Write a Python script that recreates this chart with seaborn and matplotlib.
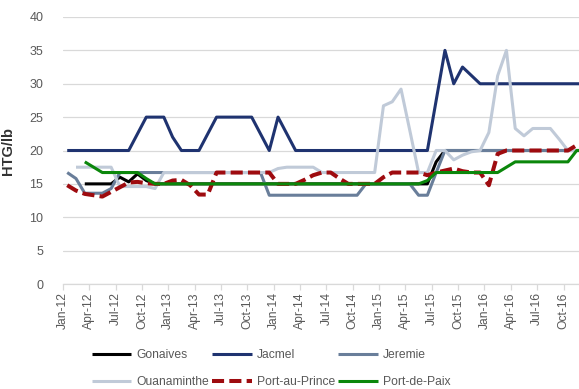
import numpy as np
import matplotlib
matplotlib.use("Agg")
import matplotlib.pyplot as plt
import seaborn as sns

nan = np.nan

# Monthly prices, Jan-2012 .. Dec-2016 (60 months)
tick_labels = ["Jan-12", "Apr-12", "Jul-12", "Oct-12",
               "Jan-13", "Apr-13", "Jul-13", "Oct-13",
               "Jan-14", "Apr-14", "Jul-14", "Oct-14",
               "Jan-15", "Apr-15", "Jul-15", "Oct-15",
               "Jan-16", "Apr-16", "Jul-16", "Oct-16"]

gonaives = ([nan, nan] + [15] * 4 + [16, 15.3, 16.5, 15.5] + [15] * 32
            + [18.3] + [20] * 17)

jacmel = ([20] * 8 + [22.5] + [25] * 3 + [22] + [20] * 3 + [22.5] + [25] * 5
          + [22.5, 20, 25, 22.5] + [20] * 16 + [27.5, 35, 30, 32.5, 31.25]
          + [30] * 13)

jeremie = ([16.7, 15.8, 13.6, 13.6, 13.6, 14.3] + [16.7] * 17 + [13.3] * 11
           + [15] * 6 + [13.3, 13.3, 16.7] + [20] * 17)

ouanaminthe = ([nan] + [17.5] * 5 + [14.6] * 4 + [14.3] + [16.7] * 13
               + [17.3] + [17.5] * 4 + [16.7] * 7
               + [26.7, 27.3, 29.2, 23, 16.7, 16.7, 20, 20, 18.6, 19.3, 19.8,
                  20, 22.7, 31.2, 35, 23.3, 22.2, 23.3, 23.3, 23.3, 21.7,
                  20, 20, 20])

port_au_prince = ([14.8, 14.0, 13.5, 13.3, 13.1, 13.8, 14.5, 15.2, 15.3, 15.1,
                   15, 15, 15.5, 15.6, 14.8, 13.4, 13.4, 16.7] + [16.7] * 6
                  + [15, 15, 15, 15.6, 16.3, 16.7, 16.7, 15.8, 15, 15, 15, 15,
                     16.0, 16.7, 16.7, 16.7, 16.7, 16.3, 16.7, 17, 17.3, 16.9,
                     16.7, 16.7, 14.8, 19.5] + [20] * 8 + [20.8, 20.8])

port_de_paix = ([nan, nan, 18.3, 17.5] + [16.7] * 5 + [15.8] + [15] * 31
                + [15.5] + [16.7] * 8 + [17.5] + [18.3] * 7 + [20, 20])

series = [
    ("Gonaives", gonaives, "#000000", 2.2, None),
    ("Jacmel", jacmel, "#1f3370", 2.2, None),
    ("Jeremie", jeremie, "#697e9a", 2.2, None),
    ("Ouanaminthe", ouanaminthe, "#c0cad8", 2.2, None),
    ("Port-au-Prince", port_au_prince, "#9e0b0f", 2.9, (3, 1.3)),
    ("Port-de-Paix", port_de_paix, "#0b870b", 2.2, None),
]

sns.set_theme(style="white")
plt.rcParams["font.family"] = ["Liberation Sans", "DejaVu Sans"]

fig = plt.figure(figsize=(5.79, 3.89), dpi=100)
ax = fig.add_axes([0.1085, 0.2699, 0.8915, 0.6864])

pos = np.arange(60) + 0.5
for name, vals, color, lw, dashes in series:
    sns.lineplot(x=pos, y=np.asarray(vals, dtype=float), ax=ax, color=color,
                 linewidth=lw, label=name)
    line = ax.lines[-1]
    line.set_solid_capstyle("butt")
    if dashes is not None:
        line.set_dashes(dashes)
        line.set_dash_capstyle("butt")

handles, labels = ax.get_legend_handles_labels()
if ax.get_legend() is not None:
    ax.get_legend().remove()

ax.set_xlim(0, 58.76)
ax.set_ylim(0, 40)
ax.set_yticks(np.arange(0, 41, 5))
ax.set_xticks(np.arange(0, 60, 3))
ax.set_xticklabels(tick_labels, rotation=90)

ax.yaxis.grid(True, color="#d9d9d9", linewidth=0.9)
ax.set_axisbelow(True)
for side in ("top", "right", "left"):
    ax.spines[side].set_visible(False)
ax.spines["bottom"].set_color("#d9d9d9")
ax.spines["bottom"].set_linewidth(0.9)

ax.tick_params(axis="x", bottom=True, length=4, width=0.9, color="#d9d9d9",
               labelsize=8.7, labelcolor="#595959", pad=2)
ax.tick_params(axis="y", left=False, labelsize=9, labelcolor="#595959", pad=8)

ax.set_xlabel("")
ax.set_ylabel("HTG/lb", fontsize=10.5, color="#333333", fontweight="bold")
ax.yaxis.set_label_coords(-0.0926, 0.5)

# fill the legend row by row: three entries per row
order = [0, 3, 1, 4, 2, 5]
fig.legend([handles[i] for i in order], [labels[i] for i in order],
           loc="center", bbox_to_anchor=(0.468, 0.052),
           ncol=3, frameon=False, fontsize=8.7, handlelength=3.3,
           handletextpad=0.4, columnspacing=0.25, labelspacing=1.25,
           labelcolor="#595959")

fig.savefig("out.png", dpi=100)
